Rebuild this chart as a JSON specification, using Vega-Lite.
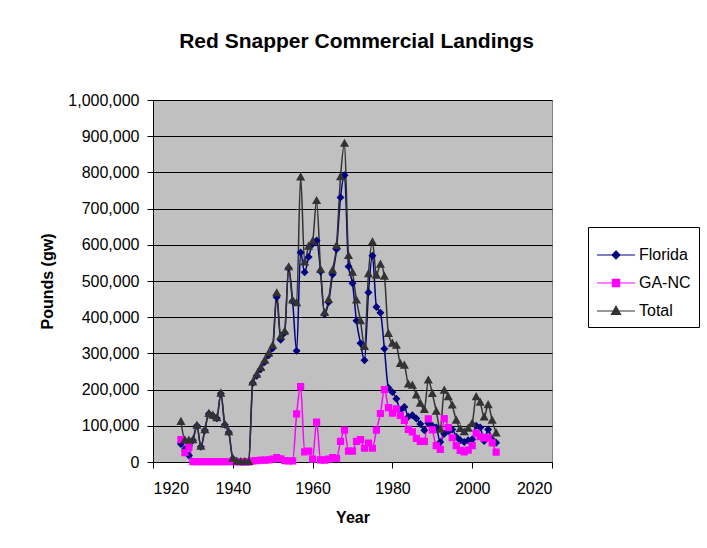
{
  "$schema": "https://vega.github.io/schema/vega-lite/v6.json",
  "width": 399,
  "height": 362,
  "autosize": {"type": "none"},
  "padding": {"left": 153, "top": 100, "right": 155, "bottom": 86},
  "background": "white",
  "title": {"text": "Red Snapper Commercial Landings", "fontSize": 21, "font": "Liberation Sans", "fontWeight": "bold", "color": "black", "anchor": "middle", "offset": 40, "dx": 4},
  "data": {"values": [
    {"Year":1927,"Florida":50000,"GA-NC":62000,"Total":112000},
    {"Year":1928,"Florida":35000,"GA-NC":26000,"Total":61000},
    {"Year":1929,"Florida":18000,"GA-NC":42000,"Total":60000},
    {"Year":1930,"Florida":60000,"GA-NC":1000,"Total":61000},
    {"Year":1931,"Florida":100000,"GA-NC":1000,"Total":101000},
    {"Year":1932,"Florida":42000,"GA-NC":1000,"Total":43000},
    {"Year":1933,"Florida":88000,"GA-NC":1000,"Total":89000},
    {"Year":1934,"Florida":133000,"GA-NC":1000,"Total":134000},
    {"Year":1935,"Florida":128000,"GA-NC":1000,"Total":129000},
    {"Year":1936,"Florida":121000,"GA-NC":1000,"Total":122000},
    {"Year":1937,"Florida":189000,"GA-NC":1000,"Total":190000},
    {"Year":1938,"Florida":103000,"GA-NC":1000,"Total":104000},
    {"Year":1939,"Florida":82000,"GA-NC":1000,"Total":83000},
    {"Year":1940,"Florida":9000,"GA-NC":1000,"Total":10000},
    {"Year":1941,"Florida":1000,"GA-NC":1000,"Total":2000},
    {"Year":1942,"Florida":500,"GA-NC":500,"Total":1000},
    {"Year":1943,"Florida":500,"GA-NC":500,"Total":1000},
    {"Year":1944,"Florida":500,"GA-NC":500,"Total":1000},
    {"Year":1945,"Florida":218000,"GA-NC":3000,"Total":221000},
    {"Year":1946,"Florida":238000,"GA-NC":4000,"Total":242000},
    {"Year":1947,"Florida":256000,"GA-NC":5000,"Total":261000},
    {"Year":1948,"Florida":276000,"GA-NC":5000,"Total":281000},
    {"Year":1949,"Florida":295000,"GA-NC":6000,"Total":301000},
    {"Year":1950,"Florida":314000,"GA-NC":8000,"Total":322000},
    {"Year":1951,"Florida":455000,"GA-NC":12000,"Total":467000},
    {"Year":1952,"Florida":338000,"GA-NC":9000,"Total":347000},
    {"Year":1953,"Florida":357000,"GA-NC":4000,"Total":361000},
    {"Year":1954,"Florida":536000,"GA-NC":3000,"Total":539000},
    {"Year":1955,"Florida":444000,"GA-NC":3000,"Total":447000},
    {"Year":1956,"Florida":307000,"GA-NC":133000,"Total":440000},
    {"Year":1957,"Florida":579000,"GA-NC":208000,"Total":787000},
    {"Year":1958,"Florida":524000,"GA-NC":28000,"Total":552000},
    {"Year":1959,"Florida":566000,"GA-NC":30000,"Total":596000},
    {"Year":1960,"Florida":602000,"GA-NC":8000,"Total":610000},
    {"Year":1961,"Florida":612000,"GA-NC":110000,"Total":722000},
    {"Year":1962,"Florida":526000,"GA-NC":6000,"Total":532000},
    {"Year":1963,"Florida":408000,"GA-NC":5000,"Total":413000},
    {"Year":1964,"Florida":441000,"GA-NC":8000,"Total":449000},
    {"Year":1965,"Florida":518000,"GA-NC":12000,"Total":530000},
    {"Year":1966,"Florida":588000,"GA-NC":10000,"Total":598000},
    {"Year":1967,"Florida":731000,"GA-NC":57000,"Total":788000},
    {"Year":1968,"Florida":792000,"GA-NC":88000,"Total":880000},
    {"Year":1969,"Florida":540000,"GA-NC":30000,"Total":570000},
    {"Year":1970,"Florida":494000,"GA-NC":30000,"Total":524000},
    {"Year":1971,"Florida":390000,"GA-NC":57000,"Total":447000},
    {"Year":1972,"Florida":328000,"GA-NC":62000,"Total":390000},
    {"Year":1973,"Florida":281000,"GA-NC":38000,"Total":319000},
    {"Year":1974,"Florida":468000,"GA-NC":52000,"Total":520000},
    {"Year":1975,"Florida":570000,"GA-NC":38000,"Total":608000},
    {"Year":1976,"Florida":428000,"GA-NC":88000,"Total":516000},
    {"Year":1977,"Florida":412000,"GA-NC":134000,"Total":546000},
    {"Year":1978,"Florida":313000,"GA-NC":200000,"Total":513000},
    {"Year":1979,"Florida":205000,"GA-NC":150000,"Total":355000},
    {"Year":1980,"Florida":193000,"GA-NC":135000,"Total":328000},
    {"Year":1981,"Florida":175000,"GA-NC":147000,"Total":322000},
    {"Year":1982,"Florida":143000,"GA-NC":129000,"Total":272000},
    {"Year":1983,"Florida":152000,"GA-NC":115000,"Total":267000},
    {"Year":1984,"Florida":125000,"GA-NC":90000,"Total":215000},
    {"Year":1985,"Florida":129000,"GA-NC":83000,"Total":212000},
    {"Year":1986,"Florida":120000,"GA-NC":65000,"Total":185000},
    {"Year":1987,"Florida":105000,"GA-NC":57000,"Total":162000},
    {"Year":1988,"Florida":88000,"GA-NC":57000,"Total":145000},
    {"Year":1989,"Florida":107000,"GA-NC":119000,"Total":226000},
    {"Year":1990,"Florida":100000,"GA-NC":89000,"Total":189000},
    {"Year":1991,"Florida":95000,"GA-NC":45000,"Total":140000},
    {"Year":1992,"Florida":55000,"GA-NC":35000,"Total":90000},
    {"Year":1993,"Florida":78000,"GA-NC":120000,"Total":198000},
    {"Year":1994,"Florida":85000,"GA-NC":95000,"Total":180000},
    {"Year":1995,"Florida":90000,"GA-NC":67000,"Total":157000},
    {"Year":1996,"Florida":70000,"GA-NC":45000,"Total":115000},
    {"Year":1997,"Florida":60000,"GA-NC":32000,"Total":92000},
    {"Year":1998,"Florida":55000,"GA-NC":28000,"Total":83000},
    {"Year":1999,"Florida":60000,"GA-NC":33000,"Total":93000},
    {"Year":2000,"Florida":62000,"GA-NC":45000,"Total":107000},
    {"Year":2001,"Florida":100000,"GA-NC":80000,"Total":180000},
    {"Year":2002,"Florida":95000,"GA-NC":70000,"Total":165000},
    {"Year":2003,"Florida":58000,"GA-NC":66000,"Total":124000},
    {"Year":2004,"Florida":90000,"GA-NC":68000,"Total":158000},
    {"Year":2005,"Florida":62000,"GA-NC":53000,"Total":115000},
    {"Year":2006,"Florida":53000,"GA-NC":27000,"Total":80000}
  ]},
  "transform": [{"fold": ["Florida", "GA-NC", "Total"], "as": ["series", "value"]}],
  "encoding": {
    "x": {"field": "Year", "type": "quantitative",
      "scale": {"domain": [1920, 2020], "nice": false, "zero": false},
      "axis": {"values": [1920, 1940, 1960, 1980, 2000, 2020], "format": "d", "title": "Year", "grid": false}},
    "y": {"field": "value", "type": "quantitative",
      "scale": {"domain": [0, 1000000], "nice": false},
      "axis": {"values": [0, 100000, 200000, 300000, 400000, 500000, 600000, 700000, 800000, 900000, 1000000], "format": ",d", "title": "Pounds (gw)", "grid": true}}
  },
  "layer": [
    {"mark": {"type": "line", "strokeWidth": 1.5, "interpolate": "monotone"},
     "encoding": {
       "stroke": {"field": "series", "type": "nominal",
         "scale": {"domain": ["Florida", "GA-NC", "Total"], "range": ["#000080", "#FF00FF", "#333333"]},
         "legend": {"title": null, "orient": "none", "legendX": 435, "legendY": 127}}}},
    {"mark": {"type": "point", "filled": true, "size": 1444, "strokeWidth": 0, "opacity": 1},
     "encoding": {
       "color": {"field": "series", "type": "nominal",
         "scale": {"domain": ["Florida", "GA-NC", "Total"], "range": ["#000080", "#FF00FF", "#333333"]},
         "legend": {"title": null, "orient": "none", "legendX": 435, "legendY": 127}},
       "shape": {"field": "series", "type": "nominal",
         "scale": {"domain": ["Florida", "GA-NC", "Total"], "range": [
           "M-1,0H1M0,-0.21L0.21,0L0,0.21L-0.21,0Z",
           "M-1,0H1M-0.19,-0.19H0.19V0.19H-0.19Z",
           "M-1,0H1M0,-0.25L0.24,0.18H-0.24Z"]},
         "legend": {"title": null, "orient": "none", "legendX": 435, "legendY": 127}},
       "order": {"field": "series"}
     }}
  ],
  "config": {
    "view": {"fill": "#C0C0C0", "stroke": "#808080", "strokeWidth": 1},
    "axis": {"domainColor": "black", "tickColor": "black", "labelColor": "black", "titleColor": "black",
      "labelFont": "Liberation Sans", "titleFont": "Liberation Sans", "labelFontSize": 16, "titleFontSize": 16,
      "titleFontWeight": "bold", "gridColor": "black", "gridOpacity": 1, "gridWidth": 1,
      "tickSize": 6, "domainWidth": 1, "tickWidth": 1},
    "axisX": {"labelPadding": 12, "titlePadding": 13},
    "axisY": {"labelPadding": 8, "titlePadding": 12},
    "legend": {"symbolSize": 1444, "symbolStrokeWidth": 1.2,
      "symbolOpacity": 1, "labelFontSize": 16, "labelFont": "Liberation Sans", "labelColor": "black",
      "strokeColor": "black", "fillColor": "white", "padding": 8, "rowPadding": -1, "labelOffset": 3}
  }
}
